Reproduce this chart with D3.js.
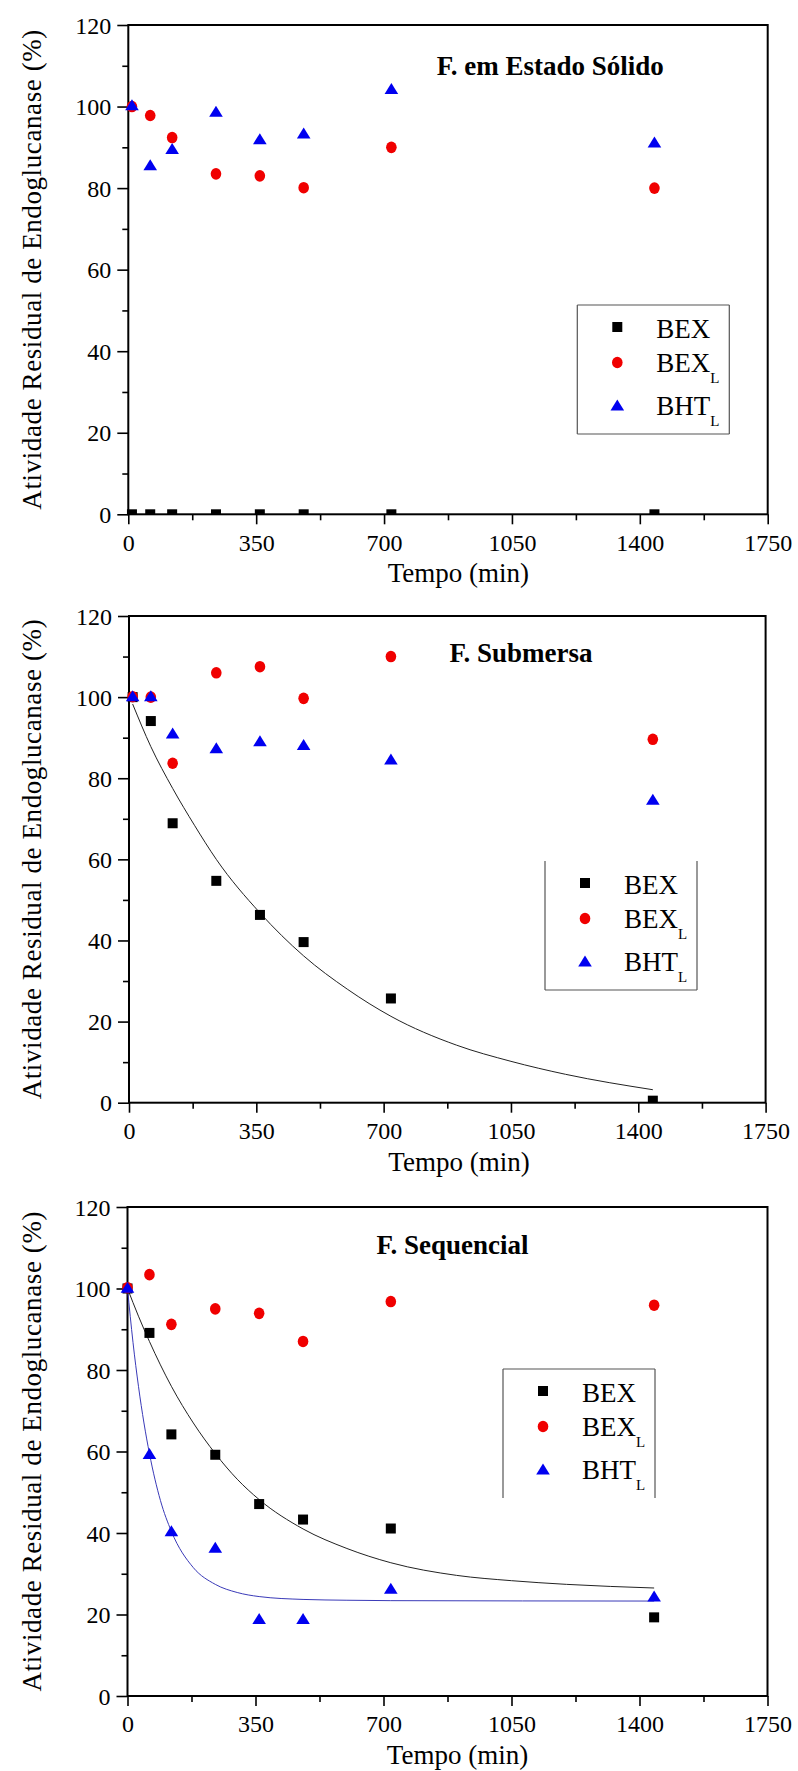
<!DOCTYPE html>
<html>
<head>
<meta charset="utf-8">
<script src="https://cdn.jsdelivr.net/npm/d3@7"></script>
<style>
  body { margin: 0; background: #fff; }
  svg text { font-family: 'Liberation Serif', 'Times New Roman', Times, serif; }
</style>
</head>
<body>
<div id="chart"></div>
<script>
// tempos de amostragem (min)
var tempo = [10, 60, 120, 240, 360, 480, 720, 1440];
var tempoSeq = [0, 60, 120, 240, 360, 480, 720, 1440];

// F. em Estado Sólido
var solidoBEX = [0, 0, 0, 0, 0, 0, 0, 0];
var solidoBEXL = [100.0, 97.8, 92.4, 83.5, 83.0, 80.1, 90.0, 80.0];
var solidoBHTL = [100.3, 85.6, 89.6, 98.7, 92.0, 93.4, 104.3, 91.2];

// F. Submersa
var submersaBEX = [100.0, 94.1, 68.9, 54.7, 46.3, 39.6, 25.7, 0.5];
var submersaBEXL = [100.1, 100.0, 83.7, 106.0, 107.5, 99.7, 110.0, 89.6];
var submersaBHTL = [100.2, 100.2, 91.0, 87.4, 89.1, 88.2, 84.6, 74.7];

// F. Sequencial
var sequencialBEX = [100.0, 89.1, 64.2, 59.2, 47.1, 43.3, 41.1, 19.3];
var sequencialBEXL = [100.2, 103.4, 91.2, 95.0, 93.9, 87.0, 96.8, 95.9];
var sequencialBHTL = [100.2, 59.4, 40.4, 36.4, 18.9, 18.9, 26.3, 24.4];

// curvas de ajuste
var ajusteSubT = [10, 60, 120, 180, 240, 360, 480, 600, 720, 900, 1050, 1200, 1440];
var ajusteSubBEX = [98.3, 87.8, 77.5, 68.4, 60.0, 46.8, 36.2, 28.0, 21.3, 14.2, 10.2, 7.0, 3.2];
var ajusteSeqT = [0, 30, 60, 120, 180, 240, 300, 360, 480, 600, 720, 900, 1050, 1200, 1440];
var ajusteSeqBEX = [100, 93.2, 87.0, 76.0, 67.0, 59.5, 53.2, 48.2, 41.0, 36.2, 32.7, 29.6, 28.3, 27.4, 26.5];
var ajusteSeqBHTT = [0, 15, 30, 45, 60, 90, 120, 180, 240, 300, 360, 480, 600, 720, 1440];
var ajusteSeqBHT = [100, 86.8, 76.0, 67.0, 59.5, 48.0, 40.4, 31.5, 27.4, 25.4, 24.4, 23.7, 23.5, 23.4, 23.3];

// eixos
var xTicks = [0, 350, 700, 1050, 1400, 1750];
var xMinor = [175, 525, 875, 1225, 1575];
var yTicks = [0, 20, 40, 60, 80, 100, 120];
var yMinor = [10, 30, 50, 70, 90, 110];
var series = ['BEX', 'BEX', 'BHT'];
var seriesSub = ['', 'L', 'L'];
var yLabel = 'Atividade Residual de Endoglucanase (%)';
var xLabel = 'Tempo (min)';

var FONT = 'Liberation Serif';

function pts(xs, ys) {
    return xs.map(function (x, i) { return { x: x, y: ys[i] }; });
}

var panels = [
    {
        title: 'F. em Estado Sólido', left: 128.3, top: 25, width: 639.4, height: 489.3,
        titleX: 422, titleY: 50,
        legend: { x: 449, y: 280, sides: ['top', 'left', 'right', 'bottom'] },
        data: [pts(tempo, solidoBEX), pts(tempo, solidoBEXL), pts(tempo, solidoBHTL)],
        fits: []
    },
    {
        title: 'F. Submersa', left: 129, top: 616, width: 636.6, height: 486.7,
        titleX: 392, titleY: 46,
        legend: { x: 416, y: 245, sides: ['left', 'right', 'bottom'] },
        data: [pts(tempo, submersaBEX), pts(tempo, submersaBEXL), pts(tempo, submersaBHTL)],
        fits: [{ pts: pts(ajusteSubT, ajusteSubBEX), color: '#222' }]
    },
    {
        title: 'F. Sequencial', left: 127.5, top: 1207, width: 640, height: 489,
        titleX: 325, titleY: 47,
        legend: { x: 375.5, y: 162, sides: ['top', 'left', 'right'] },
        data: [pts(tempoSeq, sequencialBEX), pts(tempoSeq, sequencialBEXL), pts(tempoSeq, sequencialBHTL)],
        fits: [
            { pts: pts(ajusteSeqT, ajusteSeqBEX), color: '#222' },
            { pts: pts(ajusteSeqBHTT, ajusteSeqBHT), color: '#3a3ab8' }
        ]
    }
];

var colors = ['#000000', '#f00000', '#0000f0'];

var svg = d3.select('#chart')
    .append('svg')
    .attr('width', 798)
    .attr('height', 1771)
    .attr('font-family', FONT);

function drawMarker(g, k, cx, cy) {
    if (k === 0) {
        g.append('rect')
            .attr('x', cx - 5).attr('y', cy - 5)
            .attr('width', 10).attr('height', 10)
            .attr('fill', colors[0]);
    } else if (k === 1) {
        g.append('ellipse')
            .attr('cx', cx).attr('cy', cy)
            .attr('rx', 5.3).attr('ry', 5.8)
            .attr('fill', colors[1]);
    } else {
        g.append('path')
            .attr('d', 'M' + cx + ' ' + (cy - 6) + ' L' + (cx + 6.8) + ' ' + (cy + 5) + ' L' + (cx - 6.8) + ' ' + (cy + 5) + ' Z')
            .attr('fill', colors[2]);
    }
}

panels.forEach(function (p, pi) {
    var g = svg.append('g').attr('transform', 'translate(' + p.left + ',' + p.top + ')');
    var x = d3.scaleLinear().domain([0, 1750]).range([0, p.width]);
    var y = d3.scaleLinear().domain([0, 120]).range([p.height, 0]);

    var clipId = 'clip' + pi;
    g.append('clipPath').attr('id', clipId)
        .append('rect').attr('x', -10).attr('y', -10)
        .attr('width', p.width + 20).attr('height', p.height + 10);

    // eixo x
    var gx = g.append('g').attr('transform', 'translate(0,' + p.height + ')')
        .call(d3.axisBottom(x).tickValues(xTicks).tickSize(10).tickPadding(6).tickFormat(d3.format('d')));
    g.append('g').attr('transform', 'translate(0,' + p.height + ')')
        .call(d3.axisBottom(x).tickValues(xMinor).tickSize(6).tickFormat(''));
    // eixo y
    var gy = g.append('g')
        .call(d3.axisLeft(y).tickValues(yTicks).tickSize(11).tickPadding(6));
    g.append('g')
        .call(d3.axisLeft(y).tickValues(yMinor).tickSize(6).tickFormat(''));

    g.selectAll('.domain').remove();
    g.selectAll('g').attr('font-family', FONT);
    g.selectAll('.tick line').attr('stroke', '#000').attr('stroke-width', 1.6);
    g.selectAll('.tick text')
        .attr('fill', '#000')
        .attr('font-family', FONT)
        .attr('font-size', 24);
    gx.selectAll('.tick text').attr('dy', '0.85em');
    gy.selectAll('.tick text').attr('dy', '0.34em');

    // moldura
    g.append('rect')
        .attr('width', p.width).attr('height', p.height)
        .attr('fill', 'none').attr('stroke', '#000').attr('stroke-width', 2);

    // títulos dos eixos
    g.append('text')
        .attr('x', 330).attr('y', p.height + 68)
        .attr('text-anchor', 'middle')
        .attr('font-family', FONT)
        .attr('font-size', 27)
        .text(xLabel);
    g.append('text')
        .attr('transform', 'translate(' + (41 - p.left) + ',' + (p.height / 2) + ') rotate(-90)')
        .attr('text-anchor', 'middle')
        .attr('font-family', FONT)
        .attr('font-size', 27)
        .attr('textLength', 480)
        .attr('lengthAdjust', 'spacing')
        .text(yLabel);

    // título do painel
    g.append('text')
        .attr('x', p.titleX).attr('y', p.titleY)
        .attr('text-anchor', 'middle')
        .attr('font-family', FONT)
        .attr('font-size', 27)
        .attr('font-weight', 'bold')
        .text(p.title);

    // curvas de ajuste
    var line = d3.line()
        .x(function (d) { return x(d.x); })
        .y(function (d) { return y(d.y); })
        .curve(d3.curveMonotoneX);
    p.fits.forEach(function (f) {
        g.append('path')
            .datum(f.pts)
            .attr('d', line)
            .attr('fill', 'none')
            .attr('stroke', f.color)
            .attr('stroke-width', 1);
    });

    // pontos
    var mk = g.append('g').attr('clip-path', 'url(#' + clipId + ')');
    p.data.forEach(function (s, k) {
        s.forEach(function (d) {
            drawMarker(mk, k, x(d.x), y(d.y));
        });
    });

    // legenda
    var L = p.legend;
    var lg = g.append('g').attr('transform', 'translate(' + L.x + ',' + L.y + ')');
    var lw = 152, lh = 129;
    var sides = {
        top: [0, 0, lw, 0], bottom: [0, lh, lw, lh],
        left: [0, 0, 0, lh], right: [lw, 0, lw, lh]
    };
    L.sides.forEach(function (s) {
        var c = sides[s];
        lg.append('line')
            .attr('x1', c[0]).attr('y1', c[1]).attr('x2', c[2]).attr('y2', c[3])
            .attr('stroke', '#555').attr('stroke-width', 1.2);
    });
    var symY = [22, 57.5, 100.5];
    var txtY = [32.5, 67, 110];
    series.forEach(function (name, k) {
        drawMarker(lg, k, 40, symY[k]);
        var t = lg.append('text')
            .attr('x', 79).attr('y', txtY[k])
            .attr('font-family', FONT)
            .attr('font-size', 27)
            .text(name);
        if (seriesSub[k]) {
            t.append('tspan')
                .attr('dy', 11)
                .attr('font-size', 15)
                .text(seriesSub[k]);
        }
    });
});
</script>
</body>
</html>
